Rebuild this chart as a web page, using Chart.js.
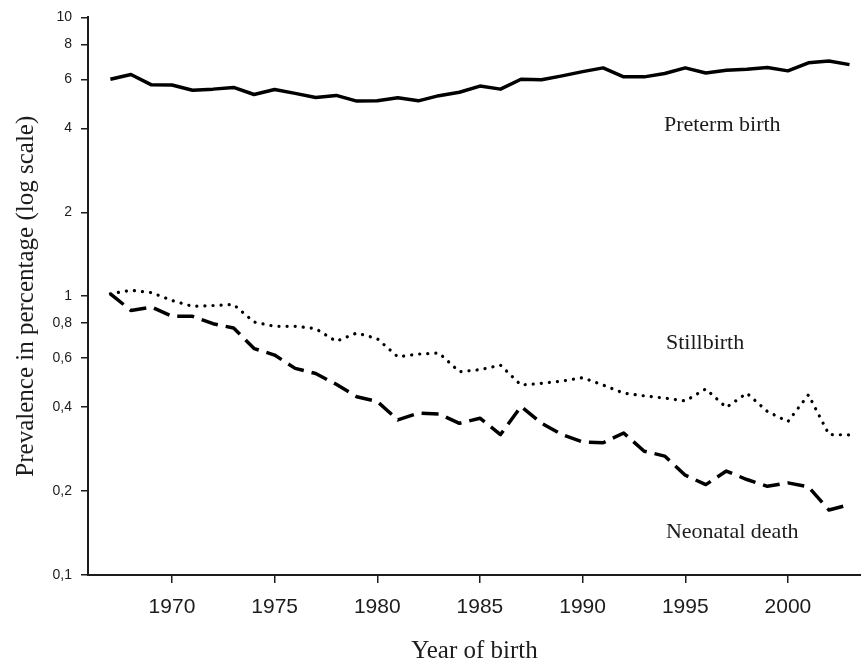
<!DOCTYPE html>
<html>
<head>
<meta charset="utf-8">
<script src="https://cdn.jsdelivr.net/npm/chart.js@4/dist/chart.umd.min.js"></script>
<style>
  html, body { margin: 0; padding: 0; background: #fff; }
  #wrap { width: 861px; height: 666px; }
</style>
</head>
<body>
<div id="wrap"><canvas id="chart" width="861" height="666"></canvas></div>
<script>
// years of birth
const years = [1967, 1968, 1969, 1970, 1971, 1972, 1973, 1974, 1975, 1976,
               1977, 1978, 1979, 1980, 1981, 1982, 1983, 1984, 1985, 1986,
               1987, 1988, 1989, 1990, 1991, 1992, 1993, 1994, 1995, 1996,
               1997, 1998, 1999, 2000, 2001, 2002, 2003];

// prevalence in percent
const preterm = [6.00, 6.24, 5.73, 5.72, 5.48, 5.53, 5.61, 5.29, 5.51, 5.34,
                 5.16, 5.25, 5.01, 5.02, 5.15, 5.02, 5.24, 5.39, 5.67, 5.53,
                 6.00, 5.98, 6.17, 6.39, 6.59, 6.12, 6.12, 6.29, 6.59, 6.32,
                 6.46, 6.52, 6.61, 6.43, 6.87, 6.98, 6.77];
const stillbirth = [1.02, 1.05, 1.03, 0.965, 0.92, 0.926, 0.934, 0.808, 0.78, 0.78,
                    0.765, 0.689, 0.738, 0.704, 0.606, 0.62, 0.626, 0.536, 0.545, 0.566,
                    0.48, 0.487, 0.496, 0.51, 0.48, 0.449, 0.439, 0.431, 0.421, 0.465,
                    0.399, 0.449, 0.386, 0.355, 0.443, 0.319, 0.318];
const neonatal = [1.02, 0.889, 0.914, 0.847, 0.847, 0.797, 0.769, 0.649, 0.615, 0.551,
                  0.528, 0.483, 0.436, 0.419, 0.36, 0.381, 0.378, 0.35, 0.365, 0.319,
                  0.402, 0.35, 0.319, 0.30, 0.298, 0.323, 0.278, 0.267, 0.228, 0.211,
                  0.236, 0.22, 0.208, 0.214, 0.207, 0.171, 0.179];

// axis ticks
const xTicks = [1970, 1975, 1980, 1985, 1990, 1995, 2000];
const yTicks = [0.1, 0.2, 0.4, 0.6, 0.8, 1, 2, 4, 6, 8, 10];
const yTickLabels = ['0,1', '0,2', '0,4', '0,6', '0,8', '1', '2', '4', '6', '8', '10'];

// series labels written next to the lines
const seriesNames = ['Preterm birth', 'Stillbirth', 'Neonatal death'];

const toPoints = vals => vals.map((v, i) => ({ x: years[i], y: v }));

const sans = '"Liberation Sans", Arial, sans-serif';
const serif = '"Liberation Serif", "Times New Roman", serif';
const ink = '#1c1c1c';

// writes the series names on the plot
const lineLabels = {
  id: 'lineLabels',
  afterDatasetsDraw(chart) {
    const { ctx, scales: { x, y } } = chart;
    const spots = [[1993.96, 3.91], [1994.06, 0.647], [1994.06, 0.136]];
    ctx.save();
    ctx.fillStyle = ink;
    ctx.font = '22px ' + serif;
    ctx.textAlign = 'left';
    ctx.textBaseline = 'alphabetic';
    seriesNames.forEach((name, i) => {
      ctx.fillText(name, x.getPixelForValue(spots[i][0]), y.getPixelForValue(spots[i][1]));
    });
    ctx.restore();
  }
};

new Chart(document.getElementById('chart'), {
  type: 'line',
  data: {
    datasets: [
      {
        label: seriesNames[0],
        data: toPoints(preterm),
        borderColor: '#000',
        borderWidth: 3.5,
        borderJoinStyle: 'round'
      },
      {
        label: seriesNames[1],
        data: toPoints(stillbirth),
        borderColor: '#000',
        borderWidth: 3.2,
        borderDash: [0.1, 8],
        borderCapStyle: 'round'
      },
      {
        label: seriesNames[2],
        data: toPoints(neonatal),
        borderColor: '#000',
        borderWidth: 3.5,
        borderDash: [17, 8],
        borderJoinStyle: 'round'
      }
    ]
  },
  options: {
    responsive: false,
    animation: false,
    devicePixelRatio: 1,
    elements: { point: { radius: 0 }, line: { tension: 0 } },
    layout: { padding: { top: 14, right: 0, bottom: 0, left: 0 } },
    plugins: { legend: { display: false }, tooltip: { enabled: false } },
    scales: {
      x: {
        type: 'linear',
        min: 1965.91,
        max: 2003.56,
        afterBuildTicks: s => { s.ticks = xTicks.map(v => ({ value: v })); },
        afterFit: s => { s.height = 91; },
        grid: { drawOnChartArea: false, drawTicks: true, tickLength: 8, color: ink, lineWidth: 1.5 },
        border: { display: true, color: ink, width: 2 },
        ticks: {
          color: ink,
          font: { family: sans, size: 21 },
          padding: 12,
          maxRotation: 0,
          autoSkip: false,
          callback: v => String(v)
        },
        title: {
          display: true,
          text: 'Year of birth',
          color: ink,
          font: { family: serif, size: 25 },
          padding: { top: 0, bottom: 0 }
        }
      },
      y: {
        type: 'logarithmic',
        min: 0.1,
        max: 10,
        afterBuildTicks: s => { s.ticks = yTicks.map(v => ({ value: v })); },
        afterFit: s => { s.width = 88; },
        grid: { drawOnChartArea: false, drawTicks: true, tickLength: 7, color: ink, lineWidth: 1.5 },
        border: { display: true, color: ink, width: 2 },
        ticks: {
          color: ink,
          font: { family: sans, size: 14 },
          padding: 9,
          autoSkip: false,
          callback: (v, i) => yTickLabels[i]
        },
        title: {
          display: true,
          text: 'Prevalence in percentage (log scale)',
          color: ink,
          font: { family: serif, size: 25 },
          padding: { top: 11, bottom: 0 }
        }
      }
    }
  },
  plugins: [lineLabels]
});
</script>
</body>
</html>
